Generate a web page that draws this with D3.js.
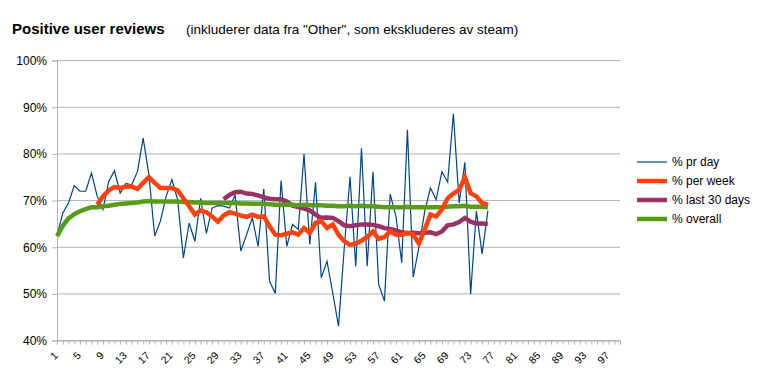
<!DOCTYPE html>
<html><head><meta charset="utf-8">
<script src="https://cdn.jsdelivr.net/npm/d3@7"></script>
<style>
body{margin:0;background:#fff}
svg{display:block}
text{font-family:"Liberation Sans",Arial,sans-serif}
</style>
</head><body>
<svg id="c" width="765" height="382"></svg>
<script>
// ---- data ----
const categories = d3.range(1, 100);
const xTickLabels = [1,5,9,13,17,21,25,29,33,37,41,45,49,53,57,61,65,69,73,77,81,85,89,93,97];
const yTicks = [0.4,0.5,0.6,0.7,0.8,0.9,1.0];
const seriesNames = ["% pr day","% per week","% last 30 days","% overall"];

const perDayStart = 1;
const perDay = [62.5,67.3,69.5,73.2,72.0,72.0,75.9,70.9,68.1,74.1,
  76.4,71.6,73.7,73.4,76.2,83.4,75.5,62.4,65.6,70.9,
  74.5,70.2,57.7,65.2,61.3,70.5,63.0,68.4,68.9,68.8,
  68.4,71.2,59.2,62.7,66.3,60.2,72.5,52.7,50.1,74.3,
  60.2,64.9,63.8,80.0,60.6,73.9,53.5,57.0,50.2,43.1,
  59.8,75.1,55.9,81.2,56.0,76.2,52.0,48.5,71.4,66.6,
  56.7,85.2,53.6,60.0,67.7,72.7,70.2,76.2,74.0,88.6,
  69.5,78.2,50.0,67.7,58.6,67.8];

const perWeekStart = 8;
const perWeek = [69.1,70.9,72.2,72.9,72.7,73.0,73.0,72.5,73.8,75.0,
  73.8,72.7,72.7,72.7,72.2,70.5,68.8,67.0,67.9,67.5,
  66.6,65.5,66.8,67.5,67.2,66.8,66.5,67.0,66.5,66.6,
  64.5,62.7,62.6,62.9,63.2,62.7,64.1,63.1,65.2,65.6,
  64.1,64.9,62.7,61.3,60.5,60.8,61.4,62.2,63.4,61.8,
  62.2,63.4,62.7,62.7,63.1,62.7,60.8,63.8,67.0,66.6,
  68.1,70.5,71.5,72.3,75.0,71.6,70.9,69.5,69.1];

const last30Start = 30;
const last30 = [70.3,71.2,71.8,71.9,71.5,71.4,71.1,70.7,70.4,70.3,
  70.3,69.8,68.9,68.6,68.3,67.9,67.0,66.3,66.4,66.3,
  65.6,64.7,64.5,64.7,64.9,64.9,64.8,64.5,64.1,63.9,
  63.6,63.2,63.0,63.1,63.0,63.1,63.2,62.8,63.4,64.7,
  64.9,65.4,66.3,65.5,65.1,65.1,65.0];

const overallStart = 1;
const overall = [62.4,64.6,66.2,67.1,67.7,68.2,68.6,68.6,68.8,68.9,
  69.1,69.3,69.4,69.5,69.6,69.8,69.9,69.8,69.8,69.8,
  69.8,69.8,69.7,69.7,69.6,69.6,69.5,69.5,69.5,69.5,
  69.5,69.5,69.4,69.4,69.3,69.3,69.3,69.2,69.1,69.1,
  69.1,69.1,69.0,69.1,69.0,69.0,69.0,68.9,68.9,68.8,
  68.8,68.9,68.8,68.9,68.8,68.8,68.7,68.6,68.6,68.6,
  68.6,68.7,68.6,68.6,68.6,68.6,68.6,68.6,68.7,68.8,
  68.8,68.9,68.7,68.7,68.7,68.6];

// ---- drawing ----
const svg = d3.select("#c");
const L = 57, R = 620, T = 60.6, B = 340.6;
const x = d3.scalePoint().domain(categories).range([L, R]);
const y = d3.scaleLinear().domain([0.4, 1.0]).range([B, T]);
const grid = "#b3b3b3";

// gridlines
svg.append("g").selectAll("line").data(yTicks).join("line")
  .attr("x1", L).attr("x2", R)
  .attr("y1", d => y(d)).attr("y2", d => y(d))
  .attr("stroke", grid).attr("stroke-width", 1);

// y axis
const yAxis = d3.axisLeft(y).tickValues(yTicks).tickFormat(d3.format(".0%")).tickSize(5).tickPadding(5);
const gy = svg.append("g").attr("transform", `translate(${L},0)`).call(yAxis);
gy.select(".domain").attr("stroke", grid);
gy.selectAll(".tick line").attr("stroke", grid);
gy.selectAll(".tick text").attr("font-size", 12).attr("fill", "#000")
  .attr("font-family", '"Liberation Sans",Arial,sans-serif');

// x axis
const xAxis = d3.axisBottom(x).tickValues(categories).tickSize(4).tickFormat("");
const gx = svg.append("g").attr("transform", `translate(0,${B})`).call(xAxis);
gx.select(".domain").attr("stroke", grid);
gx.selectAll(".tick line").attr("stroke", grid);

svg.append("g").selectAll("text").data(xTickLabels).join("text")
  .attr("transform", d => `translate(${x(d) - 1},${B + 13}) rotate(-45)`)
  .attr("text-anchor", "end")
  .attr("dy", "0.35em")
  .attr("font-size", 10.5)
  .attr("fill", "#000")
  .text(d => d);

// lines
function pts(arr, start) { return arr.map((v, i) => [start + i, v / 100]); }
const line = d3.line().x(d => x(d[0])).y(d => y(d[1]));
const seriesDefs = [
  {data: pts(perDay, perDayStart), color: "#004586", w: 1.2},
  {data: pts(perWeek, perWeekStart), color: "#ff420e", w: 4.5},
  {data: pts(last30, last30Start), color: "#993366", w: 4.5},
  {data: pts(overall, overallStart), color: "#579d1c", w: 4.5}
];
const order = [0, 2, 3, 1];
order.forEach(k => {
  const s = seriesDefs[k];
  svg.append("path").datum(s.data)
    .attr("fill", "none").attr("stroke", s.color).attr("stroke-width", s.w)
    .attr("stroke-linejoin", "miter").attr("stroke-linecap", "butt")
    .attr("d", line);
});

// legend
const lg = svg.append("g");
seriesNames.forEach((n, i) => {
  const yy = 162 + i * 19;
  lg.append("line").attr("x1", 637).attr("x2", 667).attr("y1", yy).attr("y2", yy)
    .attr("stroke", seriesDefs[i].color).attr("stroke-width", seriesDefs[i].w);
  lg.append("text").attr("x", 672).attr("y", yy).attr("dy", "0.35em")
    .attr("font-size", 12).attr("fill", "#000").text(n);
});

// titles
svg.append("text").attr("x", 12).attr("y", 34).attr("font-size", 15).attr("font-weight", "bold")
  .attr("fill", "#000").text("Positive user reviews");
svg.append("text").attr("x", 186).attr("y", 34).attr("font-size", 13.5)
  .attr("fill", "#000").text('(inkluderer data fra "Other", som ekskluderes av steam)');
</script>
</body></html>
